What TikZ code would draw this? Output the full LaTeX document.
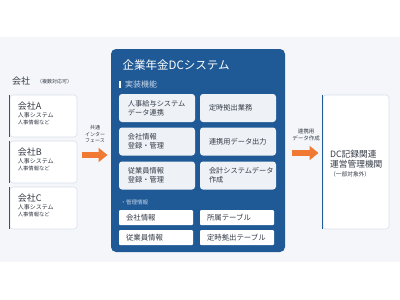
\documentclass[tikz,border=0pt]{standalone}
\usepackage{fontspec}
\setmainfont{Noto Sans CJK JP}
\usetikzlibrary{arrows.meta,calc}
\definecolor{bgc}{HTML}{F4F6FA}
\definecolor{mainblue}{HTML}{1F5A96}
\definecolor{orangec}{HTML}{F07A33}
\definecolor{funcfill}{HTML}{EEF2F7}
\definecolor{txt}{HTML}{333A45}
\definecolor{bordc}{HTML}{D9E0EB}
\definecolor{lighttxt}{HTML}{C9D7E8}
\newcommand{\fs}[1]{\fontsize{#1}{#1}\selectfont}
\tikzset{
  cardbox/.style={draw=bordc, line width=0.6pt, fill=white, rounded corners=3pt, inner sep=0pt},
  bluebar/.style={draw=mainblue, line width=1.4pt},
  funcbox/.style={fill=funcfill, rounded corners=3pt, minimum width=76pt, minimum height=28pt,
    text width=58pt, inner xsep=9pt, inner ysep=0pt, align=left, text=txt, font=\fs{7.2}},
  tabbox/.style={fill=white, rounded corners=1pt, minimum width=74pt, minimum height=15pt,
    text width=60pt, inner xsep=7pt, inner ysep=0pt, align=left, text=txt, font=\fs{7.4}},
  txtnode/.style={inner sep=0pt, anchor=west, text=txt, align=left},
  blockarrow/.style={draw=orangec, line width=6pt, -{Triangle[length=9pt,width=14pt]}},
  arrlabel/.style={inner sep=0pt, align=center, text=txt, font=\fs{5}}
}
\begin{document}
\begin{tikzpicture}[x=1pt,y=-1pt]
\useasboundingbox (0,0) rectangle (400,300);
\fill[bgc] (0,37) rectangle (400,262);

% left: companies
\node[txtnode, font=\fs{9}] (kaisha) at (12,81) {会社};
\node[txtnode, font=\fs{5}] (fukusu) at (37,81.5) {（複数対応可）};

\foreach \nm/\cy/\lt in {ca/116/A, cb/162/B, cc/208/C}{
  \node[cardbox, minimum width=67pt, minimum height=42pt] (\nm) at (43.5,\cy) {};
  \draw[bluebar] (\nm.north west) -- (\nm.south west);
  \node[txtnode, font=\fs{9}] (\nm-t1) at ($(\nm.west)+(8,-10)$) {会社\lt};
  \node[txtnode, font=\fs{6}] (\nm-t2) at ($(\nm.west)+(8,-1)$) {人事システム};
  \node[txtnode, font=\fs{5.3}] (\nm-t3) at ($(\nm.west)+(8,6)$) {人事情報など};
}

% left arrow
\coordinate (la1) at (82,155);
\coordinate (la2) at (107.5,155);
\draw[blockarrow] (la1) -- (la2);
\node[arrlabel] (lal) at (95,134) {共通\\[1.5pt]インター\\[1.5pt]フェース};

% main system
\node[fill=mainblue, rounded corners=5pt, minimum width=174pt, minimum height=203pt, inner sep=0pt] (sys) at (198,150.5) {};
\node[txtnode, text=white, font=\fs{11.5}] (title) at (122.5,65) {企業年金DCシステム};
\fill[white] (119,81) rectangle (121,88);
\node[txtnode, text=lighttxt, font=\fs{8}] (jisso) at (125,84.5) {実装機能};

\node[funcbox] (f1) at (157,108) {人事給与システム\\[1.8pt]データ連携};
\node[funcbox] (f2) at (238,108) {定時拠出業務};
\node[funcbox] (f3) at (157,141.5) {会社情報\\[1.8pt]登録・管理};
\node[funcbox] (f4) at (238,141.5) {連携用データ出力};
\node[funcbox] (f5) at (157,175.5) {従業員情報\\[1.8pt]登録・管理};
\node[funcbox] (f6) at (238,175.5) {会計システムデータ\\[1.8pt]作成};

\node[txtnode, text=lighttxt, font=\fs{5.5}] (kanri) at (120.5,202) {・管理情報};
\node[tabbox] (t1) at (156,217.5) {会社情報};
\node[tabbox] (t2) at (237,217.5) {所属テーブル};
\node[tabbox] (t3) at (156,237.5) {従業員情報};
\node[tabbox] (t4) at (237,237.5) {定時拠出テーブル};

% right arrow
\coordinate (ra1) at (292,153);
\coordinate (ra2) at (318.5,153);
\draw[blockarrow] (ra1) -- (ra2);
\node[arrlabel, font=\fs{5.5}] (ral) at (306,135) {連携用\\[1.5pt]データ作成};

% right box
\node[cardbox, minimum width=66pt, minimum height=134pt] (dc) at (356,162) {};
\draw[bluebar] (dc.north west) -- (dc.south west);
\node[txtnode, font=\fs{8.7}] (dc1) at (330,154) {DC記録関連};
\node[txtnode, font=\fs{8.7}] (dc2) at (330,164.5) {運営管理機関};
\node[txtnode, font=\fs{5.7}] (dc3) at (330,174) {（一部対象外）};
\end{tikzpicture}
\end{document}
